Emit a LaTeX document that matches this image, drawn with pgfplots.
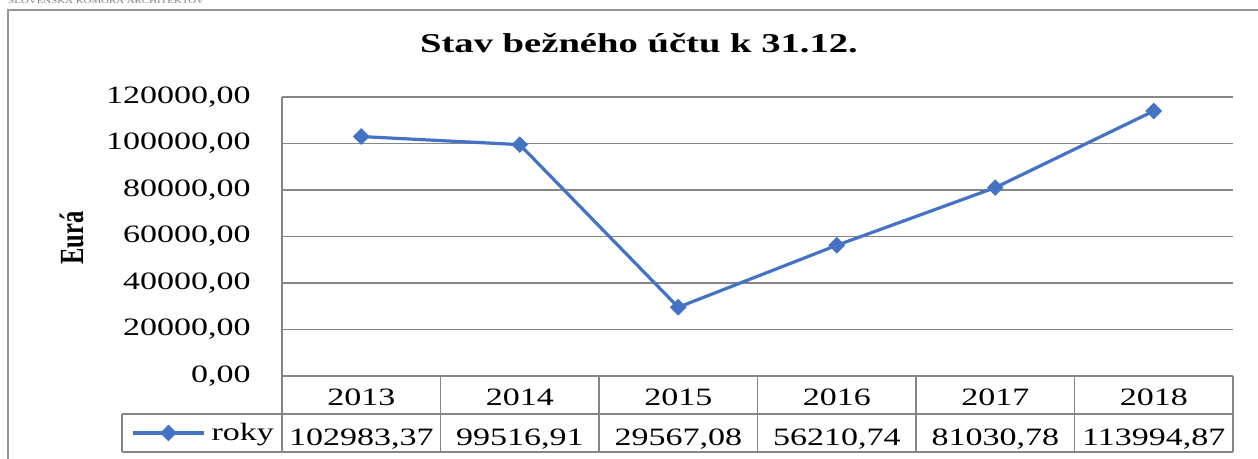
\documentclass[border=0pt]{standalone}
\usepackage{pgfplots}
\pgfplotsset{compat=1.18}
\usepackage{fontspec}
\usepackage{graphicx}
\setmainfont{Liberation Serif}[FakeStretch=1.36]
\newfontfamily\titlefont{Liberation Serif}[FakeStretch=1.42]
\newfontfamily\plainfont{Liberation Serif}
\definecolor{excelblue}{RGB}{68,114,196}
\definecolor{gridgray}{RGB}{134,134,134}
\definecolor{framegray}{RGB}{150,150,150}
\begin{document}
\begin{tikzpicture}
\useasboundingbox (0,0) rectangle (629pt,-229.5pt);
% header (cut at top)
\node[anchor=base west, inner sep=0pt, text=gray, font=\fontsize{4}{5}\selectfont] at (4pt,-2pt) {SLOVENSKÁ KOMORA ARCHITEKTOV};
% outer chart frame
\draw[framegray, line width=0.6pt] (4pt,-245pt) -- (4pt,-5pt) -- (645pt,-5pt);
% title
\node[anchor=base, inner sep=0pt, font=\titlefont\bfseries\fontsize{13.6}{16}\selectfont] at (319.5pt,-26.5pt) {Stav bežného účtu k 31.12.};
% y label
\node[anchor=base, rotate=90, inner sep=0pt, font=\plainfont\bfseries\fontsize{12.25}{15}\selectfont] at (41.5pt,-119pt) {\scalebox{1}[1.38]{Eurá}};
\begin{axis}[
  at={(141pt,-188pt)}, anchor=south west,
  scale only axis, width=475.5pt, height=139.5pt,
  xmin=-0.5, xmax=5.5, ymin=0, ymax=120000,
  axis line style={draw=none},
  xtick={0,1,2,3,4,5},
  xticklabels={2013,2014,2015,2016,2017,2018},
  ytick={0,20000,40000,60000,80000,100000,120000},
  scaled y ticks=false,
  major tick length=0pt,
  ymajorgrids, xmajorgrids=false,
  grid style={gridgray, line width=0.6pt},
  every tick label/.append style={font=\fontsize{12.5}{15}\selectfont},
  yticklabel style={/pgf/number format/fixed, /pgf/number format/fixed zerofill, /pgf/number format/precision=2, /pgf/number format/use comma, /pgf/number format/1000 sep={}, /pgf/number format/assume math mode=true, anchor=east, inner sep=0pt, xshift=-15.5pt},
  xticklabel style={anchor=base, inner sep=0pt, yshift=-14.5pt},
  clip=false,
  legend style={at={(-0.1588,-0.204)}, anchor=west, draw=none, fill=none, inner sep=0pt, nodes={inner sep=0pt}, font=\fontsize{12.5}{15}\selectfont, /tikz/every odd column/.append style={column sep=3pt}},
  legend cell align=left,
  legend image code/.code={\draw[mark repeat=2, mark phase=2] plot coordinates {(0pt,0pt) (17.75pt,0pt) (35.5pt,0pt)};},
]
\addplot[excelblue, line width=1.6pt, mark=square*, mark size=2.7pt, mark options={rotate=45, solid, line width=0.5pt}]
  coordinates {(0,102983.37) (1,99516.91) (2,29567.08) (3,56210.74) (4,81030.78) (5,113994.87)};
\addlegendentry{roky}
\end{axis}
% data table
\begin{scope}[gridgray, line width=0.6pt]
\draw (141pt,-48.5pt) -- (141pt,-226pt);
\draw (61pt,-207pt) -- (616.5pt,-207pt);
\draw (61pt,-226pt) -- (616.5pt,-226pt);
\draw (61pt,-207pt) -- (61pt,-226pt);
\foreach \k in {1,...,6} {\draw ({141pt+\k*79.25pt},-188pt) -- ({141pt+\k*79.25pt},-226pt);}
\end{scope}
\begin{scope}[every node/.style={anchor=base, inner sep=0pt, font=\fontsize{12.5}{15}\selectfont}]
\node at ({141pt+0.5*79.25pt},-222.5pt) {102983,37};
\node at ({141pt+1.5*79.25pt},-222.5pt) {99516,91};
\node at ({141pt+2.5*79.25pt},-222.5pt) {29567,08};
\node at ({141pt+3.5*79.25pt},-222.5pt) {56210,74};
\node at ({141pt+4.5*79.25pt},-222.5pt) {81030,78};
\node at ({141pt+5.5*79.25pt},-222.5pt) {113994,87};
\end{scope}
\end{tikzpicture}
\end{document}
